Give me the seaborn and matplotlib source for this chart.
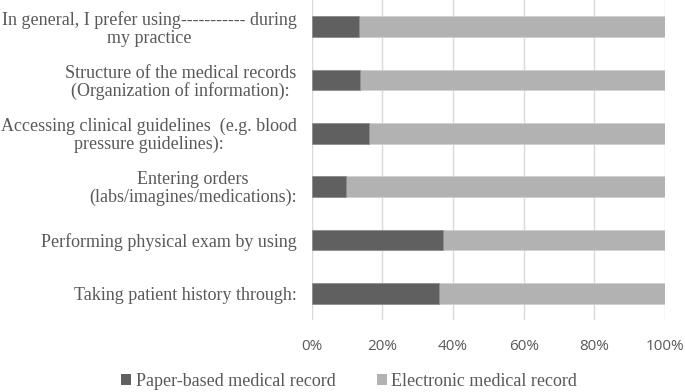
import matplotlib
matplotlib.use("Agg")
import matplotlib.pyplot as plt
import seaborn as sns
import pandas as pd
from matplotlib.patches import Patch
from matplotlib.ticker import FuncFormatter

categories = [
    "In general, I prefer using----------- during\nmy practice",
    "Structure of the medical records\n(Organization of information):",
    "Accessing clinical guidelines  (e.g. blood\npressure guidelines):",
    "Entering orders\n(labs/imagines/medications):",
    "Performing physical exam by using",
    "Taking patient history through:",
]
paper = [13.3, 13.7, 16.1, 9.7, 37.2, 36.0]
electronic = [86.7, 86.3, 83.9, 90.3, 62.8, 64.0]
series_names = ["Paper-based medical record", "Electronic medical record"]
xticks = [0, 20, 40, 60, 80, 100]

dark = "#606060"
light = "#b2b2b2"
text_col = "#595959"

sns.set_theme(style="white")
plt.rcParams["font.family"] = ["Liberation Serif", "DejaVu Serif"]

df = pd.DataFrame({"cat": categories, "paper": paper, "electronic": electronic})
df["total"] = df["paper"] + df["electronic"]

fig = plt.figure(figsize=(6.85, 3.92), dpi=100)
ax = fig.add_axes([0.455, 0.184, 0.516, 0.816])

sns.barplot(data=df, y="cat", x="total", color=light, width=0.39, ax=ax,
            saturation=1, edgecolor="#d0d0d0", linewidth=0.6, zorder=3)
sns.barplot(data=df, y="cat", x="paper", color=dark, width=0.39, ax=ax,
            saturation=1, edgecolor="#909090", linewidth=0.6, zorder=4)

ax.set_xlim(0, 100)
ax.set_ylim(len(categories) - 0.5, -0.5)
ax.set_xticks(xticks)
ax.xaxis.set_major_formatter(FuncFormatter(lambda v, p: f"{int(v)}%"))
ax.set_xlabel("")
ax.set_ylabel("")
ax.grid(axis="x", color="#d9d9d9", linewidth=1.0, zorder=0)
ax.grid(axis="y", visible=False)
for s in ax.spines.values():
    s.set_visible(False)
ax.tick_params(axis="x", length=0, pad=14, labelsize=11, colors=text_col)
ax.tick_params(axis="y", length=0, pad=11, labelsize=13, colors=text_col)
for lab in ax.get_xticklabels():
    lab.set_fontfamily(["Open Sans", "DejaVu Sans"])
for lab in ax.get_yticklabels():
    lab.set_multialignment("center")
    lab.set_linespacing(1.05)

handles = [Patch(facecolor=dark, edgecolor="none"), Patch(facecolor=light, edgecolor="none")]
fig.legend(handles, series_names, loc="center", bbox_to_anchor=(0.51, 0.028), ncol=2,
           frameon=False, fontsize=13, handlelength=0.55, handleheight=0.55,
           handletextpad=0.25, columnspacing=2.3, labelcolor=text_col)

fig.savefig("out.png", dpi=100)
